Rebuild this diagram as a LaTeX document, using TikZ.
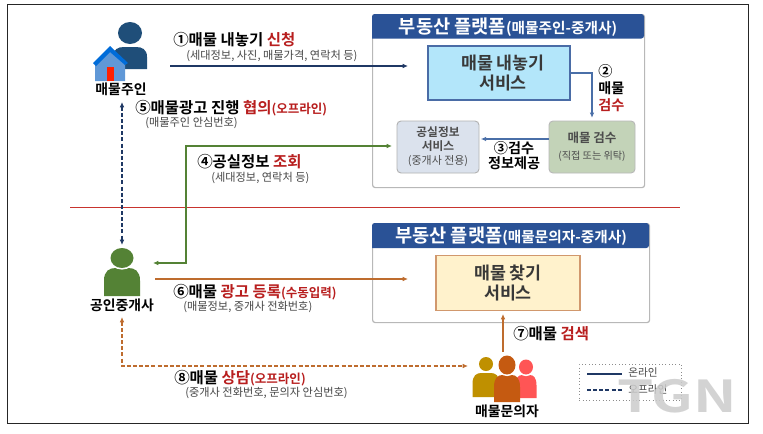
\documentclass[tikz,border=0pt]{standalone}
\usepackage{fontspec}
\setmainfont{Noto Sans CJK KR}[BoldFont={Noto Sans CJK KR Bold}]
\usetikzlibrary{arrows.meta}
\definecolor{navy}{HTML}{1F3864}
\definecolor{hdr}{HTML}{2A5296}
\definecolor{blu}{HTML}{4A6FA8}
\definecolor{dred}{HTML}{B81E1E}
\definecolor{lgreen}{HTML}{548235}
\definecolor{brn}{HTML}{BE6C2E}
\definecolor{owner}{HTML}{1F4E79}
\definecolor{divred}{HTML}{C8342E}
\definecolor{sfour}{HTML}{FFF2CC}
\tikzset{
 x=0.75pt,y=-0.75pt,
 sz/.style 2 args={minimum width=#1*0.75,minimum height=#2*0.75},
 panel/.style={draw=black!28,line width=0.9pt,rounded corners=2pt,fill=white,anchor=north west,inner sep=0pt},
 header/.style={text=white,font=\bfseries\fontsize{14}{15}\selectfont,inner sep=0pt},
 svc/.style={align=center,inner sep=0pt,font=\bfseries\fontsize{13}{14.5}\selectfont,text=black!78},
 lab/.style={anchor=west,inner sep=0pt,font=\bfseries\fontsize{11.6}{13}\selectfont},
 sub/.style={anchor=west,inner sep=0pt,font=\fontsize{8.4}{10}\selectfont,text=black!72},
 who/.style={inner sep=0pt,font=\bfseries\fontsize{10.4}{12}\selectfont},
 arr/.style={-{Latex[length=4pt,width=3.5pt]},line width=1pt},
 darr/.style={{Latex[length=4pt,width=3.5pt]}-{Latex[length=4pt,width=3.5pt]},line width=1.1pt,dash pattern=on 3pt off 1.6pt},
}
\newcommand{\rd}[1]{\textcolor{dred}{#1}}
\newcommand{\rs}[1]{\textcolor{dred}{\fontsize{9.4}{10}\selectfont #1}}
\newcommand{\hs}[1]{{\fontsize{11}{12}\selectfont #1}}
% cx, head cy, head rx, head ry, body half width, body top, body bottom, colour
\newcommand{\person}[8]{%
 \fill[#8] ({#1-#5},#7) -- ({#1-#5},{#6+0.45*(#7-#6)}) .. controls ({#1-#5},{#6+0.1*(#7-#6)}) and ({#1-0.7*#5},#6) .. ({#1-0.35*#5},#6) -- ({#1+0.35*#5},#6) .. controls ({#1+0.7*#5},#6) and ({#1+#5},{#6+0.1*(#7-#6)}) .. ({#1+#5},{#6+0.45*(#7-#6)}) -- ({#1+#5},#7) -- cycle;
 \fill[white] (#1,#2) ellipse[x radius=#3+1.6,y radius=#4+1.6];
 \fill[#8] (#1,#2) ellipse[x radius=#3,y radius=#4];
}
\begin{document}
\begin{tikzpicture}
\useasboundingbox (0,0) rectangle (763,433);
\fill[white] (0,0) rectangle (763,433);
% outer frame
\draw[black!85,line width=0.75pt] (7,4) rectangle (748,423);
% divider
\draw[divred,line width=0.7pt] (70,207) -- (680,207);

% panels
\node[panel,sz={272}{173}] (p1) at (372,14) {};
\fill[hdr,rounded corners=2pt] (372,38.5) -- (372,14) -- (644,14) -- (644,38.5) [sharp corners] -- cycle;
\node[header] (h1) at (508,27) {부동산 플랫폼\hs{(매물주인-중개사)}};
\node[panel,sz={277}{99}] (p2) at (372,223) {};
\fill[hdr,rounded corners=2pt] (372,248) -- (372,223) -- (649,223) -- (649,248) [sharp corners] -- cycle;
\node[header] (h2) at (511,236) {부동산 플랫폼\hs{(매물문의자-중개사)}};

% services
\node[svc,draw=hdr!85,line width=0.8pt,fill=cyan!30!white,sz={142}{54}] (s1) at (499,73) {\hspace*{6pt}매물 내놓기\\\hspace*{6pt}서비스};
\node[svc,draw=black!30,rounded corners=3pt,line width=0.7pt,fill=hdr!17,sz={82}{52},font=\fontsize{8.8}{10.5}\selectfont,text=black!70] (s2) at (438,147) {\textbf{공실정보}\\\textbf{서비스}\\{\fontsize{8.2}{10}\selectfont(중개사 전용)}};
\node[svc,draw=black!28,rounded corners=3pt,line width=0.7pt,fill=lgreen!35!white,sz={86}{52},font=\fontsize{9.4}{13}\selectfont,text=black!70] (s3) at (592,147) {\textbf{매물 검수}\\{\fontsize{7.6}{12}\selectfont(직접 또는 위탁)}};
\node[svc,draw=brn!70,line width=0.8pt,fill=sfour,sz={144}{55}] (s4) at (508,283) {매물 찾기\\서비스};

% icons
\person{130}{33}{12}{11}{17}{47}{69}{owner}
\fill[cyan!55!blue!65] (95,81) -- (95,62) -- (110,48) -- (125,62) -- (125,81) -- cycle;
\fill[blue!50!cyan!85!black] (93,63) -- (110,46) -- (128,63) -- (125,65) -- (110,52) -- (96,66) -- cycle;
\fill[red!75!orange] (107,67) rectangle (114,81);
\node[who] (own) at (121,89) {매물주인};
\coordinate (ownb) at (122,102);
\person{122}{258}{11.5}{10}{18}{268}{296}{lgreen}
\node[who] (ag) at (122,305) {공인중개사};
\coordinate (agt) at (122,245);
\coordinate (agb) at (122,317);
\coordinate (agr) at (153,263);
\definecolor{pa}{HTML}{BF9000}
\definecolor{pb}{HTML}{FF5555}
\definecolor{pc}{HTML}{C55A11}
\person{486}{364}{7}{7}{13.5}{373}{397}{pa}
\person{526}{367}{7}{7.5}{10.5}{375}{398}{pb}
\person{507}{365}{8.5}{9.5}{13}{375}{402}{pc}
\node[who] (inq) at (507,411) {매물문의자};

% connectors
\coordinate (a1) at (170,66);
\coordinate (a1e) at (408,66);
\draw[arr,navy] (a1) -- (a1e);
\draw[arr,blu,line width=1.2pt,shorten >=2pt] (s1.east) -| (s3.north);
\draw[arr,blu,line width=1.2pt,shorten >=1pt] ([yshift=6pt]s3.west) -- ([yshift=6pt]s2.east);
\coordinate (a4e) at (392,146);
\coordinate (a4c) at (186,146);
\draw[lgreen,line width=1pt,{Latex[length=4pt,width=3.5pt]}-{Latex[length=4pt,width=3.5pt]}] (agr) -| (a4c) -- (a4e);
\coordinate (a6a) at (155,279);
\coordinate (a6b) at (408,279);
\draw[arr,brn] (a6a) -- (a6b);
\coordinate (a7) at (503,352);
\draw[arr,brn,shorten >=2.2pt] (a7) -- (a7 |- s4.south);
\draw[darr,navy] (ownb) -- (agt);
\coordinate (a8) at (468,366);
\draw[darr,brn] (agb) |- (a8);

% labels
\node[lab] (l1) at (173,39.5) {①매물 내놓기 \rd{신청}};
\node[sub] (l1s) at (186,56) {(세대정보, 사진, 매물가격, 연락처 등)};
\node[lab] (l5) at (135,108) {⑤매물광고 진행 \rd{협의}\rs{(오프라인)}};
\node[sub] (l5s) at (145,123) {(매물주인 안심번호)};
\node[lab] (l4) at (197,162) {④공실정보 \rd{조회}};
\node[sub] (l4s) at (211,178) {(세대정보, 연락처 등)};
\node[lab,anchor=north west,align=left,font=\bfseries\fontsize{10.6}{12.8}\selectfont] (l2) at (598,64) {②\\매물\\\rd{검수}};
\node[lab,anchor=north,align=center,font=\bfseries\fontsize{10.6}{11.4}\selectfont] (l3) at (514,141) {③검수\\정보제공};
\node[lab] (l6) at (173,292) {⑥매물 \rd{광고 등록}\rs{(수동입력)}};
\node[sub] (l6s) at (183,307) {(매물정보, 중개사 전화번호)};
\node[lab] (l8) at (174,378) {⑧매물 \rd{상담}\rs{(오프라인)}};
\node[sub] (l8s) at (185,393) {(중개사 전화번호, 문의자 안심번호)};
\node[lab] (l7) at (513,334) {⑦매물 \rd{검색}};

% legend
\node[draw=black!45,dotted,line width=0.5pt,sz={102}{36},anchor=north west,inner sep=0pt] (leg) at (579,364) {};
\coordinate (lg1a) at (587,374);
\coordinate (lg1b) at (622,374);
\coordinate (lg2a) at (587,390);
\coordinate (lg2b) at (622,390);
\draw[navy,line width=1pt] (lg1a) -- (lg1b);
\draw[navy,line width=1pt,dash pattern=on 3pt off 1.6pt] (lg2a) -- (lg2b);
\node[sub,font=\fontsize{8}{10}\selectfont] (lt1) at (628,373) {온라인};
\node[sub,font=\fontsize{8}{10}\selectfont] (lt2) at (628,389) {오프라인};

% watermark
\node[inner sep=0pt,font=\bfseries\fontsize{33}{33}\selectfont,text=black!20,opacity=.85] (wm) at (677,396) {\scalebox{1.32}[1]{TGN}};
\end{tikzpicture}
\end{document}
